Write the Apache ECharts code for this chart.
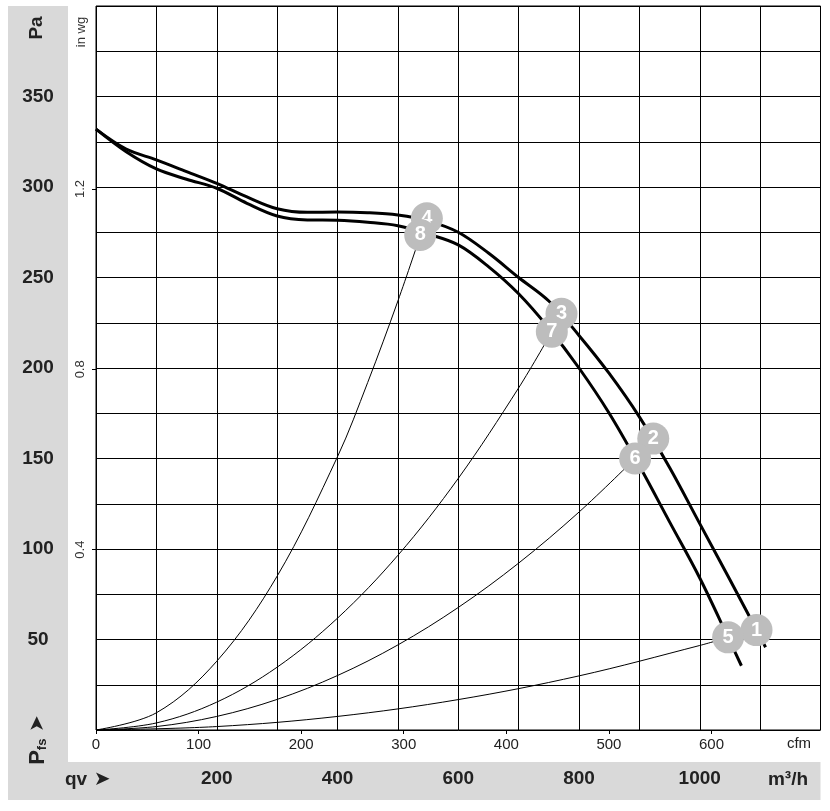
<!DOCTYPE html>
<html>
<head>
<meta charset="utf-8">
<script src="https://cdn.jsdelivr.net/npm/echarts@6.0.0/dist/echarts.min.js"></script>
<style>
html,body{margin:0;padding:0;background:#fff;}
#chart{width:830px;height:811px;}
</style>
</head>
<body>
<div id="chart"></div>
<script>
// ---- Data ----
// Fan curve, upper (points 1-4): flow in m³/h, pressure in Pa
const upperFlow = [0, 50, 100, 150, 200, 250, 300, 350, 400, 450, 500, 550, 600, 650, 700, 750, 800, 850, 900, 950, 1000, 1050, 1100, 1109];
const upperPa   = [332, 321, 315, 308.5, 302, 294.5, 288, 286, 286.2, 285.8, 284.5, 281.3, 275, 263.5, 250, 237, 218, 197, 173, 145, 114, 83, 51.5, 45.7];
// Fan curve, lower (points 5-8)
const lowerFlow = [0, 50, 100, 150, 200, 250, 300, 350, 400, 450, 500, 550, 600, 650, 700, 750, 800, 850, 900, 950, 1000, 1050, 1069];
const lowerPa   = [332, 319.5, 310, 304.3, 299.3, 291, 284, 281.8, 281.6, 280.5, 278.6, 274, 268, 256, 241, 222, 200, 175, 146, 115, 84, 49, 35.5];
// System (resistance) curves
const sys8Flow = [0, 100, 200, 300, 400, 450, 500, 537];
const sys8Pa   = [0, 9.5, 38, 85, 151, 192, 237, 273];
const sys7Flow = [0, 100, 200, 300, 400, 500, 600, 700, 755];
const sys7Pa   = [0, 3.9, 15.4, 34.7, 61.8, 96.5, 139, 189, 220];
const sys6Flow = [0, 100, 200, 300, 400, 500, 600, 700, 800, 893];
const sys6Pa   = [0, 1.9, 7.5, 16.9, 30.1, 47, 67.7, 92.2, 120.4, 150];
const sys5Flow = [0, 200, 400, 600, 800, 1000, 1047];
const sys5Pa   = [0, 1.9, 7.5, 16.8, 29.9, 46.7, 51.2];
// Operating point markers
const upperMarkLabels = ['1', '2', '3', '4'];
const upperMarkFlow   = [1094, 923, 771, 548];
const upperMarkPa     = [55.2, 161, 230, 282.7];
const lowerMarkLabels = ['5', '6', '7', '8'];
const lowerMarkFlow   = [1047, 893, 755, 537];
const lowerMarkPa     = [51.2, 150, 220, 273.5];
// Tick labels
const paTicks   = [50, 100, 150, 200, 250, 300, 350];
const flowTicks = [200, 400, 600, 800, 1000];
const cfmTicks  = [0, 100, 200, 300, 400, 500, 600];
const inwgTicks = [0.4, 0.8, 1.2];
// Unit conversions
const M3H_PER_CFM = 1.69901;
const PA_PER_INWG = 249.0889;

const zip = (a, b) => a.map((v, i) => [v, b[i]]);
const FONT = 'Liberation Sans, Arial, sans-serif';

const chart = echarts.init(document.getElementById('chart'), null, {renderer: 'canvas'});

const gridBox = {left: 96, top: 6, width: 724.5, height: 724, outerBoundsMode: 'none', containLabel: false};

function curve(flow, pa, width, z) {
  return {type: 'line', xAxisIndex: 0, yAxisIndex: 0, z: z, data: zip(flow, pa), smooth: 0.35,
          showSymbol: false, symbol: 'none', lineStyle: {color: '#000', width: width}};
}

const option = {
  animation: false,
  backgroundColor: '#fff',
  grid: [
    Object.assign({show: true, borderColor: '#000', borderWidth: 1, backgroundColor: '#fff'}, gridBox),
    Object.assign({show: false}, gridBox)
  ],
  xAxis: [
    {
      type: 'value', gridIndex: 0, min: 0, max: 1200, interval: 100, position: 'bottom',
      axisLine: {show: false}, axisTick: {show: false},
      splitLine: {show: true, lineStyle: {color: '#000', width: 1}},
      axisLabel: {customValues: flowTicks, fontSize: 19, fontWeight: 'bold', color: '#222',
                  fontFamily: FONT, verticalAlign: 'middle', margin: 49, formatter: v => String(v)}
    },
    {
      type: 'value', gridIndex: 1, min: 0, max: 1200 / M3H_PER_CFM, position: 'bottom',
      axisLine: {show: false},
      axisTick: {show: true, customValues: cfmTicks, length: 4, lineStyle: {color: '#000'}},
      splitLine: {show: false},
      axisLabel: {customValues: cfmTicks, fontSize: 15, color: '#222', fontFamily: FONT, margin: 7,
                  formatter: v => String(v)}
    }
  ],
  yAxis: [
    {
      type: 'value', gridIndex: 0, min: 0, max: 400, interval: 25, position: 'left',
      axisLine: {show: false}, axisTick: {show: false},
      splitLine: {show: true, lineStyle: {color: '#000', width: 1}},
      axisLabel: {customValues: paTicks, fontSize: 19, fontWeight: 'bold', color: '#222',
                  fontFamily: FONT, align: 'center', margin: 58}
    },
    {
      type: 'value', gridIndex: 1, min: 0, max: 400 / PA_PER_INWG, position: 'left',
      axisLine: {show: false},
      axisTick: {show: true, customValues: inwgTicks, length: 4, lineStyle: {color: '#000'}},
      splitLine: {show: false},
      axisLabel: {customValues: inwgTicks, rotate: 90, fontSize: 13, color: '#333', fontFamily: FONT,
                  margin: 9, formatter: v => v.toFixed(1)}
    }
  ],
  graphic: [
    {type: 'rect', z: -10, silent: true, shape: {x: 8, y: 6, width: 60, height: 794}, style: {fill: '#d9d9d9'}},
    {type: 'rect', z: -10, silent: true, shape: {x: 8, y: 762, width: 812.5, height: 38}, style: {fill: '#d9d9d9'}},
    {type: 'text', x: 37, y: 28, rotation: Math.PI / 2,
     style: {text: 'Pa', font: 'bold 19px ' + FONT, fill: '#222', align: 'center', verticalAlign: 'middle'}},
    {type: 'text', x: 81, y: 32, rotation: Math.PI / 2,
     style: {text: 'in wg', font: '13px ' + FONT, fill: '#333', align: 'center', verticalAlign: 'middle'}},
    {type: 'text', x: 38, y: 740, rotation: Math.PI / 2,
     style: {text: '{p|P}{s|fs}  {a|➤}', align: 'center', verticalAlign: 'middle', fill: '#222',
       rich: {
         p: {font: 'bold 22px ' + FONT, fill: '#222'},
         s: {font: 'bold 13px ' + FONT, fill: '#222', verticalAlign: 'bottom', padding: [8, 0, 0, 0]},
         a: {font: '20px DejaVu Sans, sans-serif', fill: '#222'}
       }}},
    {type: 'text', x: 65, y: 780,
     style: {text: '{q|qv}  {a|➤}', align: 'left', verticalAlign: 'middle',
       rich: {
         q: {font: 'bold 19px ' + FONT, fill: '#222'},
         a: {font: '20px DejaVu Sans, sans-serif', fill: '#222'}
       }}},
    {type: 'text', x: 788, y: 780,
     style: {text: 'm³/h', font: 'bold 19px ' + FONT, fill: '#222', align: 'center', verticalAlign: 'middle'}},
    {type: 'text', x: 799, y: 744,
     style: {text: 'cfm', font: '15px ' + FONT, fill: '#222', align: 'center', verticalAlign: 'middle'}}
  ],
  series: [
    curve(upperFlow, upperPa, 3, 3),
    curve(lowerFlow, lowerPa, 3, 3),
    curve(sys8Flow, sys8Pa, 1, 2),
    curve(sys7Flow, sys7Pa, 1, 2),
    curve(sys6Flow, sys6Pa, 1, 2),
    curve(sys5Flow, sys5Pa, 1, 2),
    {type: 'scatter', xAxisIndex: 0, yAxisIndex: 0, z: 5, symbol: 'circle', symbolSize: 32,
     itemStyle: {color: '#bdbdbd', opacity: 1},
     data: upperMarkFlow.map((q, i) => ({value: [q, upperMarkPa[i]], name: upperMarkLabels[i]})),
     label: {show: true, position: 'inside', formatter: p => p.name, color: '#fff',
             fontFamily: FONT, fontWeight: 'bold', fontSize: 20}},
    {type: 'scatter', xAxisIndex: 0, yAxisIndex: 0, z: 6, symbol: 'circle', symbolSize: 32,
     itemStyle: {color: '#bdbdbd', opacity: 1},
     data: lowerMarkFlow.map((q, i) => ({value: [q, lowerMarkPa[i]], name: lowerMarkLabels[i]})),
     label: {show: true, position: 'inside', formatter: p => p.name, color: '#fff',
             fontFamily: FONT, fontWeight: 'bold', fontSize: 20}}
  ]
};
chart.setOption(option);
</script>
</body>
</html>
